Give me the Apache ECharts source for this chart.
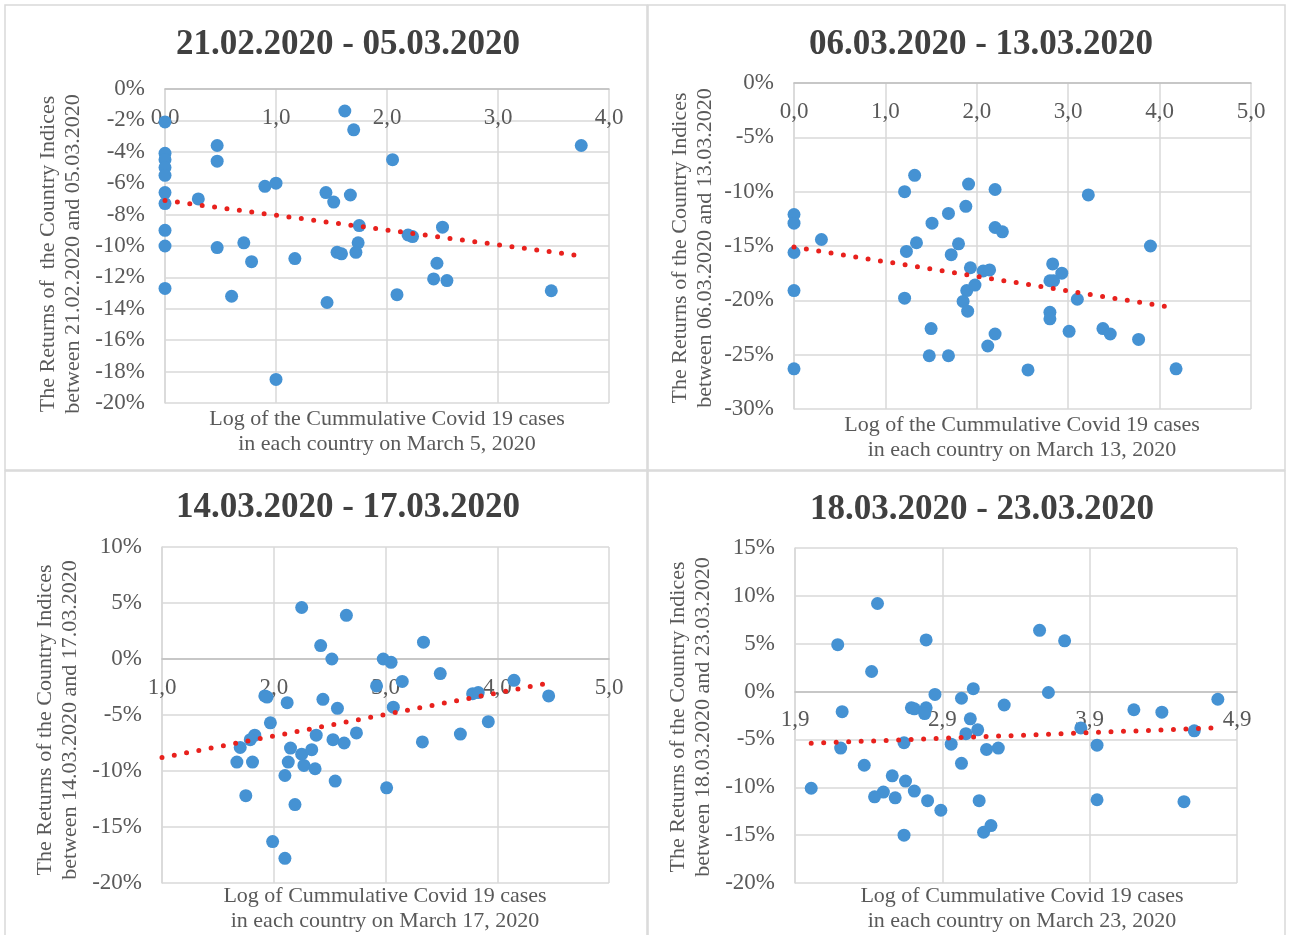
<!DOCTYPE html>
<html>
<head>
<meta charset="utf-8">
<script src="https://cdn.jsdelivr.net/npm/echarts@6/dist/echarts.min.js"></script>
<style>
html,body{margin:0;padding:0;background:#fff;}
#c{width:1290px;height:935px;}
</style>
</head>
<body>
<div id="c"></div>
<script>
// ---------- Data ----------
const titles = ['21.02.2020 - 05.03.2020', '06.03.2020 - 13.03.2020', '14.03.2020 - 17.03.2020', '18.03.2020 - 23.03.2020'];
const yNames = [
  'The Returns of  the Country Indices\nbetween 21.02.2020 and 05.03.2020',
  'The Returns of the Country Indices\nbetween 06.03.2020 and 13.03.2020',
  'The Returns of the Country Indices\nbetween 14.03.2020 and 17.03.2020',
  'The Returns of the Country Indices\nbetween 18.03.2020 and 23.03.2020'
];
const xNames = [
  'Log of the Cummulative Covid 19 cases\nin each country on March 5, 2020',
  'Log of the Cummulative Covid 19 cases\nin each country on March 13, 2020',
  'Log of Cummulative Covid 19 cases\nin each country on March 17, 2020',
  'Log of Cummulative Covid 19 cases\nin each country on March 23, 2020'
];

// axis ranges: [min, max, interval]
const xRanges = [[0, 4, 1], [0, 5, 1], [1, 5, 1], [1.9, 4.9, 1]];
const yRanges = [[-20, 0, 2], [-30, 0, 5], [-20, 10, 5], [-20, 15, 5]];

// Panel 1 (21.02 - 05.03)
const p1x = [0, 1.62, 1.70, 0.47, 0.47, 0, 0, 0, 0, 2.05, 0.90, 1.00, 0, 0.30, 0, 1.45, 1.67, 1.52, 1.75, 0, 1.74, 0, 0.47, 0.71, 0.78, 1.17, 1.55, 1.59, 1.72, 0, 0.60, 1.46, 1.00, 2.09, 3.75, 2.50, 2.19, 2.23, 2.45, 2.42, 2.54, 3.48];
const p1y = [-2.1, -1.4, -2.6, -3.6, -4.6, -4.1, -4.5, -5.0, -5.5, -4.5, -6.2, -6.0, -6.6, -7.0, -7.3, -6.6, -6.75, -7.2, -8.7, -9.0, -9.8, -10.0, -10.1, -9.8, -11.0, -10.8, -10.4, -10.5, -10.4, -12.7, -13.2, -13.6, -18.5, -13.1, -3.6, -8.8, -9.3, -9.4, -11.1, -12.1, -12.2, -12.85];
const trend1 = [[0, -7.1], [3.72, -10.6]];

// Panel 2 (06.03 - 13.03)
const p2x = [0, 0, 0, 0, 0, 0.30, 1.32, 1.21, 1.91, 2.20, 1.88, 1.69, 1.51, 2.20, 2.28, 1.34, 1.23, 1.80, 1.72, 1.93, 2.07, 2.14, 1.89, 1.98, 1.85, 1.90, 1.21, 1.50, 2.20, 2.12, 1.48, 1.69, 2.56, 3.22, 3.90, 2.83, 2.93, 2.80, 2.84, 3.10, 2.80, 2.80, 3.01, 3.38, 3.46, 3.77, 4.18];
const p2y = [-12.1, -12.9, -15.6, -19.1, -26.3, -14.4, -8.5, -10.0, -9.3, -9.8, -11.35, -12.0, -12.9, -13.3, -13.7, -14.7, -15.5, -14.8, -15.8, -17.0, -17.3, -17.2, -19.1, -18.6, -20.1, -21.0, -19.8, -22.6, -23.1, -24.2, -25.1, -25.1, -26.4, -10.3, -15.0, -16.65, -17.5, -18.2, -18.2, -19.9, -21.1, -21.7, -22.85, -22.6, -23.1, -23.6, -26.3];
const trend2 = [[0, -15.1], [4.09, -20.6]];

// Panel 3 (14.03 - 17.03)
const p3x = [2.25, 2.65, 2.42, 2.52, 2.98, 3.05, 2.92, 3.15, 1.92, 1.94, 2.12, 2.44, 2.57, 3.07, 1.97, 1.83, 1.79, 1.70, 2.38, 2.74, 2.53, 2.63, 2.15, 2.25, 2.34, 1.67, 1.81, 2.13, 2.27, 2.37, 2.10, 2.55, 3.01, 1.75, 2.19, 1.99, 2.10, 3.34, 3.49, 4.15, 3.78, 3.83, 4.46, 3.92, 3.67, 3.33];
const p3y = [4.6, 3.9, 1.2, 0.0, 0.0, -0.3, -2.4, -2.0, -3.3, -3.4, -3.9, -3.6, -4.4, -4.3, -5.7, -6.8, -7.2, -7.9, -6.8, -6.6, -7.2, -7.5, -7.95, -8.5, -8.1, -9.2, -9.2, -9.2, -9.5, -9.8, -10.4, -10.9, -11.5, -12.2, -13.0, -16.3, -17.8, 1.5, -1.3, -1.9, -3.1, -3.0, -3.3, -5.6, -6.7, -7.4];
const trend3 = [[1.0, -8.8], [4.43, -2.2]];

// Panel 4 (18.03 - 23.03)
const p4x = [2.46, 2.19, 2.79, 2.42, 2.85, 3.11, 3.03, 3.32, 2.22, 2.69, 2.71, 2.79, 2.78, 3.09, 3.14, 3.06, 2.21, 2.64, 2.96, 3.20, 3.28, 3.03, 2.37, 2.01, 2.56, 2.65, 2.50, 2.44, 2.58, 2.71, 2.80, 2.89, 3.15, 2.64, 3.18, 3.23, 3.56, 3.73, 3.62, 4.77, 4.20, 4.39, 3.84, 4.61, 3.95, 3.95, 4.54];
const p4y = [9.2, 4.9, 5.4, 2.1, -0.3, 0.3, -0.7, -1.4, -2.1, -1.7, -1.8, -1.7, -2.3, -2.85, -4.0, -4.4, -5.9, -5.35, -5.5, -6.05, -5.9, -7.5, -7.7, -10.1, -8.8, -9.35, -10.5, -11.0, -11.1, -10.4, -11.4, -12.4, -11.4, -15.0, -14.7, -14.0, 6.4, 5.3, -0.1, -0.8, -1.9, -2.15, -3.8, -4.1, -5.6, -11.3, -11.5];
const trend4 = [[2.01, -5.4], [4.74, -3.8]];

const xsAll = [p1x, p2x, p3x, p4x];
const ysAll = [p1y, p2y, p3y, p4y];
const trends = [trend1, trend2, trend3, trend4];

// ---------- Layout ----------
const grids = [
  {left: 165, top: 89, width: 444, height: 314},
  {left: 794, top: 83, width: 457, height: 326},
  {left: 162, top: 547, width: 447, height: 336},
  {left: 795, top: 548, width: 442, height: 335}
];
const titlePos = [[348, 45], [981, 45], [348, 508], [982, 510]];
const yNamePos = [[61, 254], [693, 248], [58, 720], [691, 717]];
const xNamePos = [[387, 432], [1022, 438], [385, 909], [1022, 909]];
const panelRects = [[5, 5, 642, 465], [648, 5, 637, 465], [5, 471, 642, 470], [648, 471, 637, 470]];

const FONT = 'Liberation Serif, Times New Roman, serif';
const GRID_C = '#d9d9d9';
const LABEL_C = '#595959';

const fmtX = v => (Math.round(v * 10) / 10).toFixed(1).replace('.', ',');

const option = {
  backgroundColor: '#ffffff',
  animation: false,
  grid: grids.map(g => Object.assign({containLabel: false}, g)),
  // x axis crosses the y axis at 0%: place it at the top and shift it down to the zero line
  xAxis: xRanges.map((r, i) => {
    const yr = yRanges[i];
    const zeroShift = grids[i].height * yr[1] / (yr[1] - yr[0]);
    return {
      type: 'value', gridIndex: i, min: r[0], max: r[1], interval: r[2],
      position: 'top', offset: -zeroShift,
      axisLine: {show: true, onZero: false, lineStyle: {color: '#bfbfbf', width: 1.5}},
      axisTick: {show: false},
      splitLine: {show: true, lineStyle: {color: GRID_C, width: 1.5}},
      axisLabel: {inside: true, formatter: fmtX, color: LABEL_C, fontFamily: FONT, fontSize: 23, margin: 17, hideOverlap: false}
    };
  }),
  yAxis: yRanges.map((r, i) => ({
    type: 'value', gridIndex: i, min: r[0], max: r[1], interval: r[2],
    axisLine: {show: true, onZero: false, lineStyle: {color: GRID_C, width: 1.5}},
    axisTick: {show: false},
    splitLine: {show: true, lineStyle: {color: GRID_C, width: 1.5}},
    axisLabel: {formatter: v => Math.round(v) + '%', color: LABEL_C, fontFamily: FONT, fontSize: 23, margin: 20}
  })),
  series: [],
  graphic: []
};

for (let i = 0; i < 4; i++) {
  option.series.push({
    type: 'scatter', xAxisIndex: i, yAxisIndex: i,
    data: xsAll[i].map((x, k) => [x, ysAll[i][k]]),
    symbol: 'circle', symbolSize: 13,
    itemStyle: {color: '#4592d3', opacity: 1},
    z: 3
  });
  option.series.push({
    type: 'line', xAxisIndex: i, yAxisIndex: i,
    data: trends[i], symbol: 'none',
    lineStyle: {color: '#e8211d', width: 5, type: [0, 12.5], cap: 'round'},
    z: 4
  });
}

const g = option.graphic;
panelRects.forEach(r => {
  g.push({type: 'rect', shape: {x: r[0], y: r[1], width: r[2], height: r[3]},
    style: {fill: 'none', stroke: '#d9d9d9', lineWidth: 1.5}, silent: true, z: -1});
});
for (let i = 0; i < 4; i++) {
  g.push({type: 'text', x: titlePos[i][0], y: titlePos[i][1],
    style: {text: titles[i], font: 'bold 35px ' + FONT, fill: '#404040', textAlign: 'center', textVerticalAlign: 'middle'}});
  g.push({type: 'text', x: yNamePos[i][0], y: yNamePos[i][1], rotation: Math.PI / 2,
    style: {text: yNames[i], font: '22px ' + FONT, fill: LABEL_C, textAlign: 'center', textVerticalAlign: 'middle', lineHeight: 25}});
  g.push({type: 'text', x: xNamePos[i][0], y: xNamePos[i][1],
    style: {text: xNames[i], font: '22px ' + FONT, fill: LABEL_C, textAlign: 'center', textVerticalAlign: 'middle', lineHeight: 25}});
}

const chart = echarts.init(document.getElementById('c'), null, {renderer: 'canvas', width: 1290, height: 935});
chart.setOption(option);
</script>
</body>
</html>
